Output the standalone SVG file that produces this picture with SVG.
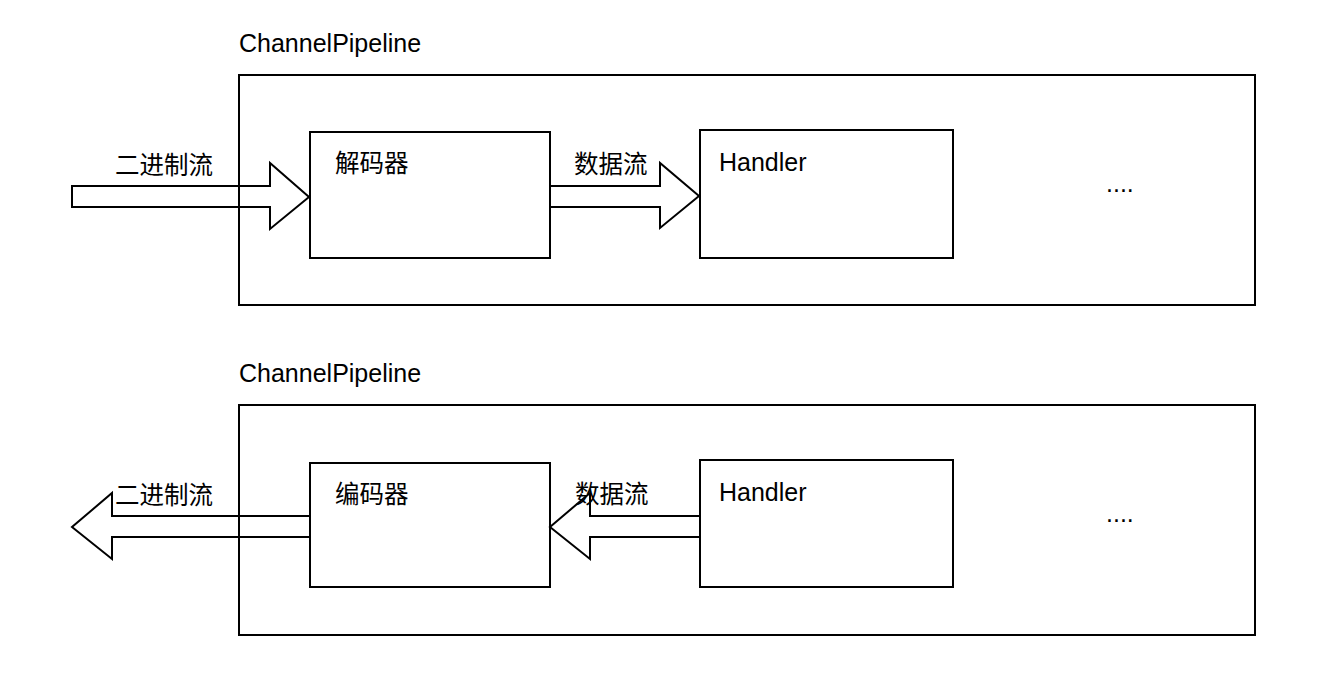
<svg xmlns="http://www.w3.org/2000/svg" width="1334" height="696" viewBox="0 0 1334 696">
<style>
.box{fill:none;stroke:#000;stroke-width:2}
.arr{fill:none;stroke:#000;stroke-width:2;stroke-linejoin:miter}
text{font-family:"Liberation Sans","Noto Sans CJK SC",sans-serif;font-size:25px;fill:#000}
.cjk{font-size:24.5px}
</style>
<rect width="1334" height="696" fill="#fff"/>
<g id="pipeline1">
<text x="239" y="52">ChannelPipeline</text>
<rect class="box" x="239" y="75" width="1016" height="230"/>
</g>
<g id="decoder">
<rect class="box" x="310" y="132" width="240" height="126"/>
<text class="cjk" x="335" y="172">解码器</text>
</g>
<g id="handler1">
<rect class="box" x="700" y="130" width="253" height="128"/>
<text x="719" y="171">Handler</text>
</g>
<g id="dots1"><text x="1106" y="192">....</text></g>
<g id="pipeline2">
<text x="239" y="382">ChannelPipeline</text>
<rect class="box" x="239" y="405" width="1016" height="230"/>
</g>
<g id="encoder">
<rect class="box" x="310" y="463" width="240" height="124"/>
<text class="cjk" x="335" y="503">编码器</text>
</g>
<g id="handler2">
<rect class="box" x="700" y="460" width="253" height="127"/>
<text x="719" y="501">Handler</text>
</g>
<g id="dots2"><text x="1106" y="522">....</text></g>
<g id="connectors">
<path class="arr" d="M72,186 H270 V163 L309,197 L270,229 V207 H72 Z"/>
<path class="arr" d="M550,186 H660 V163 L699,196 L660,228 V207 H550 Z"/>
<path class="arr" d="M310,516 H112 V493 L72,527 L112,559 V537 H310 Z"/>
<path class="arr" d="M700,516 H590 V493 L550,527 L590,559 V537 H700 Z"/>
<text class="cjk" x="115" y="174">二进制流</text>
<text class="cjk" x="574" y="173">数据流</text>
<text class="cjk" x="115" y="504">二进制流</text>
<text class="cjk" x="575" y="503">数据流</text>
</g>
</svg>
